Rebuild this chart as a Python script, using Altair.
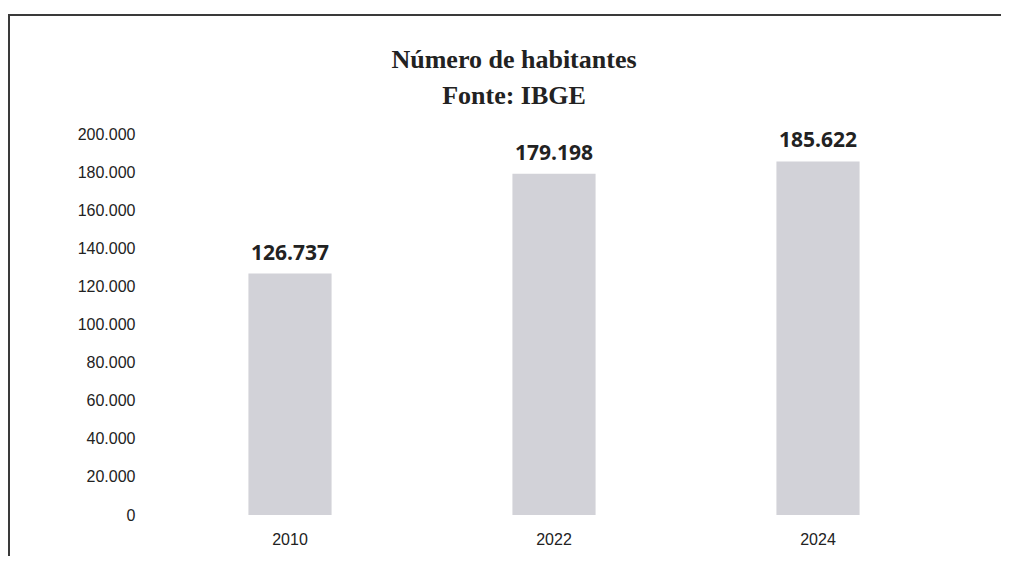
import altair as alt
import pandas as pd

anos = ["2010", "2022", "2024"]
habitantes = [126737, 179198, 185622]
y_ticks = [0, 20000, 40000, 60000, 80000, 100000, 120000, 140000, 160000, 180000, 200000]
titulo = ["Número de habitantes", "Fonte: IBGE"]

df = pd.DataFrame({"ano": anos, "habitantes": habitantes})

W, H = 792, 381
PAD = {"left": 150, "top": 126, "right": 51, "bottom": 41}

fmt = "replace(format(datum.value, ','), ',', '.')"

x = alt.X("ano:N", sort=anos, title=None,
          scale=alt.Scale(paddingInner=0.685, paddingOuter=0.3425),
          axis=alt.Axis(labelAngle=0, domain=False, ticks=False, labelPadding=16,
                        labelFont="Liberation Sans", labelFontSize=16, labelColor="#222"))

y = alt.Y("habitantes:Q", title=None,
          scale=alt.Scale(domain=[0, 200000], nice=False),
          axis=alt.Axis(values=y_ticks, domain=False, ticks=False, grid=False,
                        labelOverlap=False,
                        labelPadding=23, labelFont="Liberation Sans", labelFontSize=16,
                        labelColor="#222", labelExpr=fmt))

base = alt.Chart(df)

bars = base.mark_bar(color="#d2d2d8").encode(x=x, y=y)

labels = base.transform_calculate(
    rot="replace(format(datum.habitantes, ','), ',', '.')"
).mark_text(font="Open Sans", fontWeight="bold", fontSize=21, color="#222",
            baseline="alphabetic", dy=-14).encode(x=x, y=y, text="rot:N")

one = pd.DataFrame({"a": [0]})

frame = alt.Chart(one).mark_rect(
    fill="white", fillOpacity=0, stroke="#3a3a3a", strokeWidth=2
).encode(x=alt.value(-149), x2=alt.value(W + 80), y=alt.value(-119), y2=alt.value(H + 80))

title1 = alt.Chart(one).mark_text(
    font="Liberation Serif", fontWeight="bold", fontSize=26, color="#222",
    align="center", baseline="middle"
).encode(x=alt.value(356), y=alt.value(-74), text=alt.value(titulo[0]))

title2 = alt.Chart(one).mark_text(
    font="Liberation Serif", fontWeight="bold", fontSize=26, color="#222",
    align="center", baseline="middle"
).encode(x=alt.value(356), y=alt.value(-38), text=alt.value(titulo[1]))

chart = alt.layer(frame, title1, title2, bars, labels).properties(
    width=W, height=H,
    padding=PAD,
    background="white",
    autosize=alt.AutoSizeParams(type="none"),
).configure_view(strokeOpacity=0, strokeWidth=0)

chart.save("out.html", embed_options={"renderer": "svg", "actions": False})
